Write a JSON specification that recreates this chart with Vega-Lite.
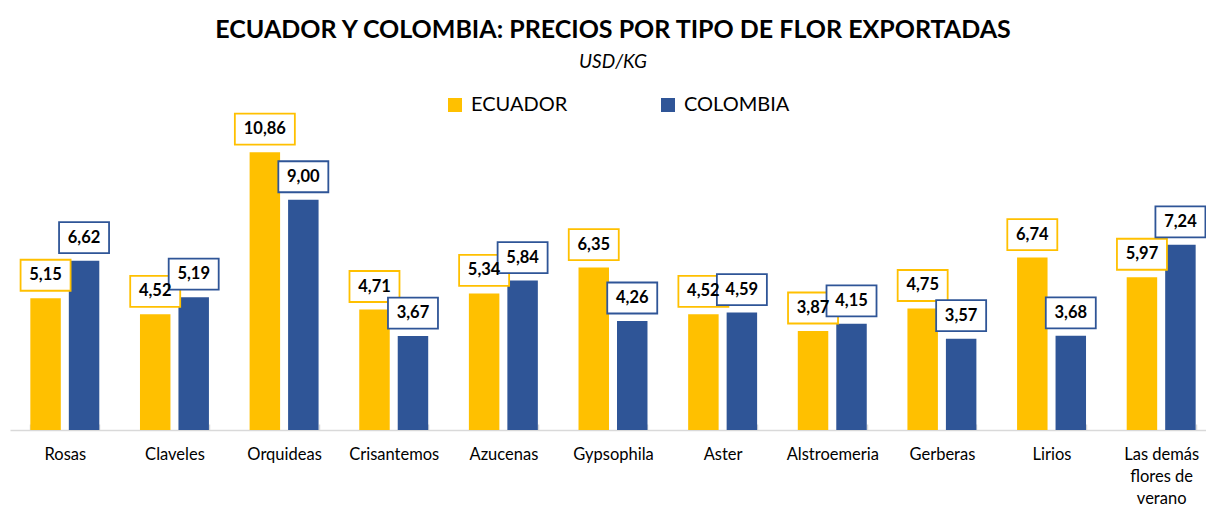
{
  "$schema": "https://vega.github.io/schema/vega-lite/v6.json",
  "autosize": {"type": "none"},
  "width": 1206,
  "height": 307,
  "padding": {"left": 10, "top": 123, "right": 0, "bottom": 76},
  "background": "white",
  "config": {
    "view": {"stroke": null},
    "locale": {"number": {"decimal": ",", "thousands": ".", "grouping": [3], "currency": ["$", ""]}}
  },
  "title": {
    "text": "ECUADOR Y COLOMBIA: PRECIOS POR TIPO DE FLOR EXPORTADAS",
    "subtitle": "USD/KG",
    "anchor": "middle",
    "font": "Lato",
    "fontSize": 25,
    "fontWeight": "bold",
    "color": "#000000",
    "subtitleFont": "Lato",
    "subtitleFontSize": 19,
    "subtitleFontStyle": "italic",
    "subtitleColor": "#000000",
    "subtitlePadding": 10,
    "offset": 23
  },
  "data": {
    "values": [
      {"flor": "Rosas", "pais": "ECUADOR", "valor": 5.15},
      {"flor": "Rosas", "pais": "COLOMBIA", "valor": 6.62},
      {"flor": "Claveles", "pais": "ECUADOR", "valor": 4.52},
      {"flor": "Claveles", "pais": "COLOMBIA", "valor": 5.19},
      {"flor": "Orquideas", "pais": "ECUADOR", "valor": 10.86},
      {"flor": "Orquideas", "pais": "COLOMBIA", "valor": 9.00},
      {"flor": "Crisantemos", "pais": "ECUADOR", "valor": 4.71},
      {"flor": "Crisantemos", "pais": "COLOMBIA", "valor": 3.67},
      {"flor": "Azucenas", "pais": "ECUADOR", "valor": 5.34},
      {"flor": "Azucenas", "pais": "COLOMBIA", "valor": 5.84},
      {"flor": "Gypsophila", "pais": "ECUADOR", "valor": 6.35},
      {"flor": "Gypsophila", "pais": "COLOMBIA", "valor": 4.26},
      {"flor": "Aster", "pais": "ECUADOR", "valor": 4.52},
      {"flor": "Aster", "pais": "COLOMBIA", "valor": 4.59},
      {"flor": "Alstroemeria", "pais": "ECUADOR", "valor": 3.87},
      {"flor": "Alstroemeria", "pais": "COLOMBIA", "valor": 4.15},
      {"flor": "Gerberas", "pais": "ECUADOR", "valor": 4.75},
      {"flor": "Gerberas", "pais": "COLOMBIA", "valor": 3.57},
      {"flor": "Lirios", "pais": "ECUADOR", "valor": 6.74},
      {"flor": "Lirios", "pais": "COLOMBIA", "valor": 3.68},
      {"flor": "Las demás flores de verano", "pais": "ECUADOR", "valor": 5.97},
      {"flor": "Las demás flores de verano", "pais": "COLOMBIA", "valor": 7.24}
    ]
  },
  "encoding": {
    "x": {
      "field": "flor",
      "type": "nominal",
      "sort": null,
      "scale": {"paddingInner": 0.371, "paddingOuter": 0.1855},
      "axis": {
        "title": null,
        "labelAngle": 0,
        "labelFont": "Lato",
        "labelFontSize": 16.5,
        "labelColor": "#000000",
        "labelPadding": 22,
        "labelBaseline": "top",
        "labelLineHeight": 22,
        "labelLimit": 200,
        "domainColor": "#d9d9d9",
        "domainWidth": 1.5,
        "tickColor": "#d9d9d9",
        "tickSize": -6,
        "tickWidth": 1.5,
        "tickBand": "extent",
        "labelExpr": "datum.value == 'Las demás flores de verano' ? ['Las demás', 'flores de', 'verano'] : datum.value"
      }
    },
    "xOffset": {
      "field": "pais",
      "type": "nominal",
      "sort": ["ECUADOR", "COLOMBIA"],
      "scale": {"domain": ["ECUADOR", "COLOMBIA"], "paddingInner": 0.208, "paddingOuter": 0}
    },
    "y": {
      "field": "valor",
      "type": "quantitative",
      "scale": {"domain": [0, 12], "nice": false},
      "axis": null
    }
  },
  "layer": [
    {
      "mark": {"type": "bar"},
      "encoding": {
        "color": {
          "field": "pais",
          "type": "nominal",
          "sort": ["ECUADOR", "COLOMBIA"],
          "scale": {"domain": ["ECUADOR", "COLOMBIA"], "range": ["#FFC000", "#2F5597"]},
          "legend": {
            "orient": "none",
            "legendX": 435,
            "legendY": -28,
            "direction": "horizontal",
            "title": null,
            "symbolType": "square",
            "symbolSize": 196,
            "symbolStrokeWidth": 0,
            "labelFont": "Lato",
            "labelFontSize": 20,
            "labelColor": "#000000",
            "columnPadding": 90,
            "labelOffset": 6,
            "padding": 0
          }
        }
      }
    },
    {
      "mark": {"type": "point", "filled": false, "fill": "white", "opacity": 1, "strokeWidth": 1.8, "yOffset": -23},
      "encoding": {
        "stroke": {
          "field": "pais",
          "type": "nominal",
          "scale": {"domain": ["ECUADOR", "COLOMBIA"], "range": ["#FFC000", "#2F5597"]},
          "legend": null
        },
        "shape": {
          "condition": {"test": "datum.valor >= 10", "value": "M-1.2,-0.62L1.2,-0.62L1.2,0.62L-1.2,0.62Z"},
          "value": "M-1,-0.62L1,-0.62L1,0.62L-1,0.62Z"
        },
        "size": {"value": 2500}
      }
    },
    {
      "mark": {"type": "text", "yOffset": -23, "font": "Lato", "fontSize": 16.5, "fontWeight": "bold", "color": "#000000", "baseline": "middle"},
      "encoding": {
        "text": {"field": "valor", "type": "quantitative", "format": ".2f"}
      }
    }
  ]
}
